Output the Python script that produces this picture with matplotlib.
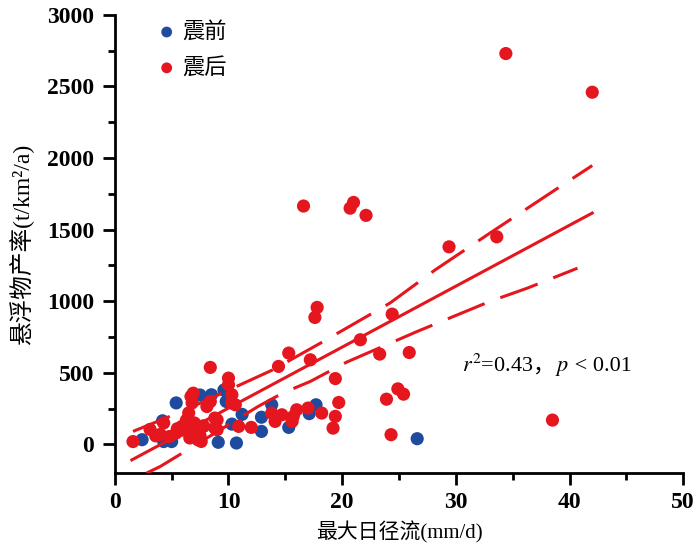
import matplotlib
matplotlib.use("Agg")
from matplotlib import pyplot as plt
from matplotlib.ticker import MultipleLocator

# 震前 (pre-earthquake) points
pre_x = [2.4, 4.3, 5.0, 4.2, 5.4, 6.6, 7.5, 7.8, 8.5, 9.1, 9.6, 9.8, 10.3, 10.7,
         11.2, 12.9, 12.9, 13.8, 15.3, 17.1, 17.7, 26.6]
pre_y = [33, 20, 20, 165, 290, 150, 345, 126, 347, 15, 380, 300, 142, 10,
         210, 91, 190, 277, 119, 215, 277, 40]

# 震后 (post-earthquake) points
post_x = [1.6, 3.1, 3.6, 4.0, 4.3, 4.8, 5.4, 5.9, 6.3, 6.5, 6.6, 6.8, 6.7, 6.9,
          7.2, 7.3, 7.6, 7.0, 7.5, 8.1, 8.4, 8.4, 8.8, 8.8, 9.0, 9.0, 7.8, 7.0,
          6.0, 5.5, 10.0, 10.0, 10.3, 10.3, 10.6, 10.9, 12.0, 13.8, 14.1, 14.7,
          15.6, 15.7, 16.0, 17.0, 18.2, 14.4, 15.3, 17.2, 17.6, 17.8, 16.6, 20.7,
          21.0, 22.1, 29.4, 33.6, 34.4, 42.0, 19.4, 19.7, 19.4, 19.2, 21.6, 24.4,
          23.3, 25.9, 23.9, 24.9, 25.4, 24.3, 38.5]
post_y = [20, 105, 60, 70, 150, 55, 80, 126, 170, 220, 45, 290, 335, 358,
          91, 33, 21, 150, 60, 265, 300, 538, 184, 114, 172, 103, 130, 110,
          100, 110, 463, 417, 347, 289, 277, 126, 119, 219, 161, 207,
          161, 196, 242, 254, 219, 545, 638, 591, 887, 957, 1665, 1650,
          1690, 1600, 1380, 1450, 2730, 2460, 460, 293, 196, 114, 731, 910,
          631, 642, 316, 388, 351, 68, 170]

# fitted line and confidence band
fit_x = [1.5, 42.0]
fit_y = [-108, 1616]
up_x = [1.6, 5.9, 13.9, 18.1, 24.2, 28.2, 33.0, 38.3, 42.0]
up_y = [91, 230, 521, 708, 987, 1220, 1476, 1755, 1948]
lo_x = [2.8, 4.0, 6.9, 12.6, 14.8, 17.2, 20.4, 26.6, 33.0, 36.3, 40.7]
lo_y = [-200, -154, -14, 265, 360, 440, 575, 789, 999, 1092, 1231]

note_parts = [r"$r^2$=0.43", "，", r"$p$", " < 0.01"]

blue = "#1f4b9e"
red = "#e5161d"

plt.rcParams["font.family"] = ["Liberation Serif", "Noto Sans CJK SC"]
plt.rcParams["mathtext.fontset"] = "stix"

fig = plt.figure(figsize=(7, 5.52), dpi=100)
ax = fig.add_axes([0.164, 0.143, 0.812, 0.83])

ax.scatter(pre_x, pre_y, s=90, color=blue, edgecolors="none", label="震前", zorder=3)
ax.scatter(post_x, post_y, s=90, color=red, edgecolors="none", label="震后", zorder=4)

ax.plot(fit_x, fit_y, color=red, lw=2.2, zorder=5)
ax.plot(up_x, up_y, color=red, lw=2.2, dashes=(13, 5.5), zorder=5)
ax.plot(lo_x, lo_y, color=red, lw=2.2, dashes=(13, 5.5), zorder=5)

ax.set_xlim(0, 50)
ax.set_ylim(-200, 3000)
ax.xaxis.set_major_locator(MultipleLocator(10))
ax.xaxis.set_minor_locator(MultipleLocator(5))
ax.yaxis.set_major_locator(MultipleLocator(500))
ax.yaxis.set_minor_locator(MultipleLocator(250))
for s in ["top", "right"]:
    ax.spines[s].set_visible(False)
for s in ["left", "bottom"]:
    ax.spines[s].set_linewidth(2)
ax.tick_params(which="major", direction="out", length=8.5, width=2, labelsize=17, pad=5)
ax.tick_params(axis="y", which="major", pad=6.5)
ax.tick_params(which="minor", direction="out", length=5, width=2)
for lab in ax.get_xticklabels() + ax.get_yticklabels():
    lab.set_fontweight("bold")

ax.set_xlabel("最大日径流(mm/d)", fontsize=15, labelpad=6)
ax.set_ylabel("悬浮物产率(t/km²/a)", fontsize=17)
ax.yaxis.set_label_coords(-0.142, 0.5)

# r2 / p note, pieces placed one after another on one baseline
fig.canvas.draw()
nx, ny = 30.5, 510
for part in note_parts:
    t = ax.text(nx, ny, part, fontsize=16, va="baseline")
    bb = t.get_window_extent(renderer=fig.canvas.get_renderer())
    nx = ax.transData.inverted().transform((bb.x1, bb.y0))[0]

ax.legend(loc="upper left", bbox_to_anchor=(0.06, 1.004), borderaxespad=0,
          frameon=False, fontsize=16, handlelength=0.8, handletextpad=0.3,
          markerscale=0.82, labelspacing=0.67)

fig.savefig("out.png", dpi=100)
